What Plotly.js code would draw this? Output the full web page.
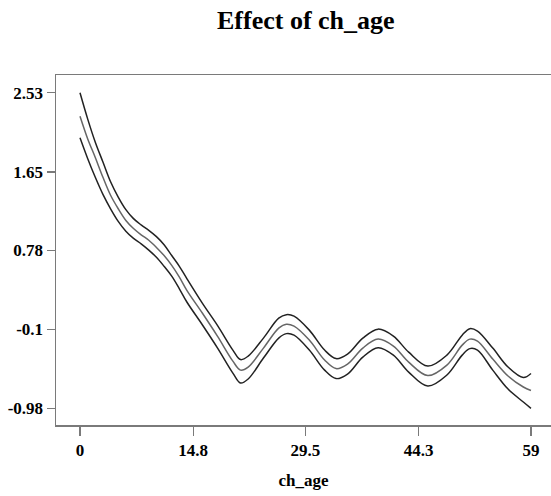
<!DOCTYPE html>
<html>
<head>
<meta charset="utf-8">
<script src="https://cdn.plot.ly/plotly-3.0.1.min.js"></script>
<style>html,body{margin:0;padding:0;background:#fff;}#chart{width:551px;height:496px;}</style>
</head>
<body>
<div id="chart"></div>
<script>
var ageX = [0, 1, 2, 3, 4, 5, 6, 7, 8, 9, 10, 11, 12, 13, 14, 16, 18, 20, 21, 22, 24, 26, 27, 28, 30, 32, 33.5, 35, 37, 39, 41, 43, 45.5, 48, 50, 51, 52, 54, 56, 58, 59];
var upperY = [2.53, 2.24, 1.98, 1.76, 1.54, 1.37, 1.23, 1.13, 1.06, 1.00, 0.93, 0.84, 0.72, 0.60, 0.46, 0.19, -0.06, -0.332, -0.438, -0.399, -0.199, 0.023, 0.062, 0.045, -0.110, -0.332, -0.427, -0.377, -0.199, -0.099, -0.177, -0.355, -0.510, -0.388, -0.166, -0.094, -0.121, -0.310, -0.521, -0.638, -0.593];
var middleY = [2.27, 2.02, 1.81, 1.59, 1.39, 1.24, 1.11, 1.02, 0.95, 0.89, 0.81, 0.72, 0.61, 0.48, 0.33, 0.08, -0.18, -0.455, -0.555, -0.521, -0.310, -0.088, -0.044, -0.066, -0.221, -0.443, -0.538, -0.488, -0.310, -0.210, -0.288, -0.466, -0.616, -0.499, -0.277, -0.210, -0.232, -0.432, -0.621, -0.743, -0.782];
var lowerY = [2.03, 1.80, 1.59, 1.40, 1.24, 1.10, 0.99, 0.91, 0.85, 0.78, 0.70, 0.60, 0.49, 0.35, 0.20, -0.05, -0.31, -0.588, -0.699, -0.654, -0.421, -0.199, -0.149, -0.166, -0.332, -0.555, -0.649, -0.599, -0.410, -0.305, -0.388, -0.577, -0.732, -0.610, -0.388, -0.316, -0.332, -0.555, -0.766, -0.910, -0.98];
var xTickVals = [0, 14.8, 29.5, 44.3, 59];
var xTickText = ['0', '14.8', '29.5', '44.3', '59'];
var yTickVals = [2.53, 1.65, 0.78, -0.1, -0.98];
var yTickText = ['2.53', '1.65', '0.78', '-0.1', '-0.98'];

var FONT = '"Liberation Serif", "Times New Roman", serif';
function tr(y, color) {
  return {x: ageX, y: y, type: 'scatter', mode: 'lines',
    line: {color: color, width: 1.5, shape: 'spline', smoothing: 1},
    hoverinfo: 'skip', showlegend: false};
}
var data = [tr(upperY, '#222'), tr(middleY, '#666'), tr(lowerY, '#222')];
var axisCol = '#7a7a7a';
var layout = {
  width: 551, height: 496,
  margin: {l: 56, r: 0, t: 75, b: 71, pad: 0},
  paper_bgcolor: '#fff', plot_bgcolor: '#fff',
  showlegend: false,
  title: {text: 'Effect of ch_age', font: {family: FONT, size: 26, color: '#000', weight: 'bold'},
    x: 0.555, xanchor: 'center', y: 0.96, yanchor: 'middle'},
  xaxis: {range: [-3.14, 61.62], showgrid: false, zeroline: false,
    showline: true, linecolor: axisCol, linewidth: 1.5, mirror: true,
    ticks: 'outside', ticklen: 9, tickcolor: axisCol, tickwidth: 1.2,
    tickvals: xTickVals, ticktext: xTickText,
    tickfont: {family: FONT, size: 17, color: '#000', weight: 'bold'},
    title: {text: 'ch_age', font: {family: FONT, size: 17, color: '#000', weight: 'bold'}, standoff: 15}},
  yaxis: {range: [-1.1655, 2.728], showgrid: false, zeroline: false,
    showline: true, linecolor: axisCol, linewidth: 1.5, mirror: false,
    ticks: 'outside', ticklen: 8, tickcolor: axisCol, tickwidth: 1.2,
    tickvals: yTickVals, ticktext: yTickText,
    tickfont: {family: FONT, size: 17, color: '#000', weight: 'bold'}}
};
Plotly.newPlot('chart', data, layout, {displayModeBar: false, staticPlot: true});
</script>
</body>
</html>
